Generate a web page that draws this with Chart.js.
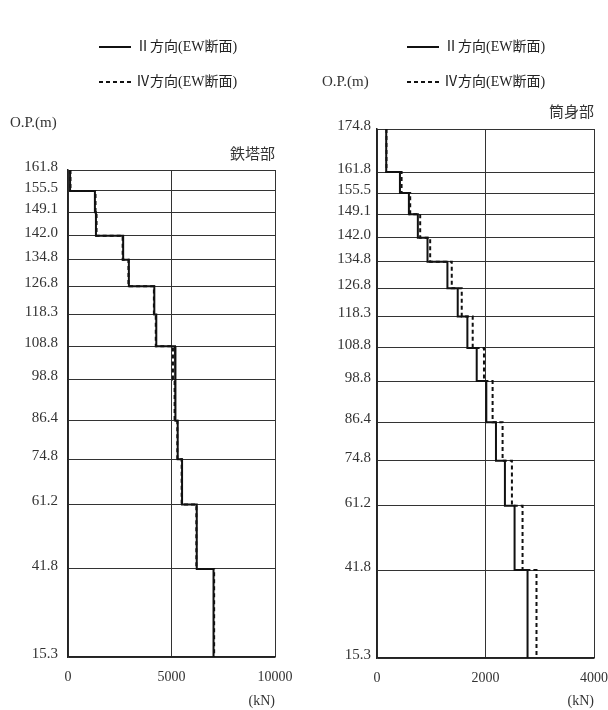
<!DOCTYPE html>
<html>
<head>
<meta charset="utf-8">
<script src="https://cdn.jsdelivr.net/npm/chart.js@4.4.1/dist/chart.umd.min.js"></script>
<style>
  body { margin: 0; background: #fff; }
  .wrap { position: relative; width: 608px; height: 710px; }
  canvas { position: absolute; top: 0; }
</style>
</head>
<body>
<div class="wrap">
  <canvas id="tower-chart" width="304" height="710" style="left:0"></canvas>
  <canvas id="stack-chart" width="304" height="710" style="left:304px"></canvas>
</div>
<script>
/// data (kN per level band, top to bottom)
const towerLevels = [161.8, 155.5, 149.1, 142.0, 134.8, 126.8, 118.3, 108.8, 98.8, 86.4, 74.8, 61.2, 41.8, 15.3];
const towerDir2 = [100, 1300, 1350, 2665, 2940, 4170, 4265, 5170, 5200, 5300, 5510, 6220, 7030];
const towerDir4 = [120, 1330, 1380, 2640, 2920, 4150, 4240, 5070, 5150, 5280, 5490, 6200, 7060];
const towerTicksX = [0, 5000, 10000];

const stackLevels = [174.8, 161.8, 155.5, 149.1, 142.0, 134.8, 126.8, 118.3, 108.8, 98.8, 86.4, 74.8, 61.2, 41.8, 15.3];
const stackDir2 = [170, 423, 588, 753, 931, 1298, 1488, 1666, 1838, 2015, 2193, 2358, 2536, 2775];
const stackDir4 = [175, 453, 612, 796, 980, 1378, 1562, 1764, 1972, 2131, 2315, 2487, 2683, 2940];
const stackTicksX = [0, 2000, 4000];

const labelDir2 = 'Ⅱ方向(EW断面)';
const labelDir4 = 'Ⅳ方向(EW断面)';

const FONT_FAMILY = "'Liberation Serif', 'Noto Sans CJK JP', serif";
Chart.defaults.font.family = FONT_FAMILY;
Chart.defaults.font.size = 14;
Chart.defaults.color = '#333';

// turn level bands into step points
function steps(levels, values) {
    let pts = [];
    for (let i = 0; i < values.length; i++) {
        pts.push({x: values[i], y: levels[i]});
        pts.push({x: values[i], y: levels[i + 1]});
    }
    return pts;
}

// legend, O.P.(m) and panel name
const panelText = {
    id: 'panelText',
    afterDraw(chart, args, opts) {
        const ctx = chart.ctx;
        ctx.save();
        ctx.textBaseline = 'middle';
        chart.data.datasets.forEach(function(ds, i) {
            let y = opts.legendY[i];
            ctx.beginPath();
            ctx.setLineDash(ds.borderDash || []);
            ctx.lineWidth = 2;
            ctx.strokeStyle = ds.borderColor;
            ctx.moveTo(opts.legendX, y);
            ctx.lineTo(opts.legendX + 32, y);
            ctx.stroke();
            ctx.setLineDash([]);
            ctx.fillStyle = '#222';
            ctx.font = '14px ' + FONT_FAMILY;
            ctx.textAlign = 'left';
            ctx.fillText(ds.label, opts.legendX + 37, y);
        });
        ctx.fillStyle = '#333';
        ctx.font = '15px ' + FONT_FAMILY;
        ctx.textAlign = 'left';
        ctx.fillText('O.P.(m)', opts.opX, opts.opY);
        ctx.font = '15px ' + FONT_FAMILY;
        ctx.textAlign = 'right';
        ctx.fillText(opts.title, chart.chartArea.right, opts.titleY);
        ctx.restore();
    }
};

function makeChart(id, levels, dir2, dir4, ticksX, cfg) {
    const data = {
        datasets: [{
            label: labelDir2,
            data: steps(levels, dir2),
            borderColor: '#111',
            borderWidth: 2,
            showLine: true,
            pointRadius: 0,
            order: 2
        }, {
            label: labelDir4,
            data: steps(levels, dir4),
            borderColor: '#111',
            borderWidth: 2,
            borderDash: [4, 3],
            showLine: true,
            pointRadius: 0,
            order: 1
        }]
    };

    const config = {
        type: 'scatter',
        data: data,
        plugins: [panelText],
        options: {
            responsive: false,
            animation: false,
            layout: { padding: { left: 0, right: cfg.padRight, top: cfg.padTop, bottom: 0 } },
            plugins: {
                legend: { display: false },
                tooltip: { enabled: false },
                panelText: cfg.text
            },
            scales: {
                x: {
                    type: 'linear',
                    min: ticksX[0],
                    max: ticksX[ticksX.length - 1],
                    afterBuildTicks: function(scale) {
                        scale.ticks = ticksX.map(v => ({value: v}));
                    },
                    afterFit: function(scale) {
                        scale.height = cfg.xHeight;
                        scale.paddingLeft = 0;
                        scale.paddingRight = 0;
                    },
                    ticks: {
                        padding: 12,
                        maxRotation: 0,
                        autoSkip: false,
                        color: '#333',
                        callback: v => String(v)
                    },
                    grid: { color: '#333', lineWidth: 1, drawTicks: false },
                    border: { color: '#222', width: 1.5 },
                    title: {
                        display: true,
                        text: '(kN)',
                        align: 'end',
                        color: '#333',
                        padding: 0,
                        font: { size: 14 }
                    }
                },
                y: {
                    type: 'linear',
                    min: levels[levels.length - 1],
                    max: levels[0],
                    afterBuildTicks: function(scale) {
                        scale.ticks = levels.map(v => ({value: v}));
                    },
                    afterFit: function(scale) { scale.width = cfg.yWidth; },
                    ticks: {
                        padding: cfg.yPad,
                        labelOffset: -3,
                        autoSkip: false,
                        color: '#333',
                        font: { size: 15 },
                        callback: v => Number(v).toFixed(1)
                    },
                    grid: { color: '#333', lineWidth: 1, drawTicks: false },
                    border: { color: '#222', width: 1.5 }
                }
            }
        }
    };

    return new Chart(document.getElementById(id).getContext('2d'), config);
}

// TOWER (left)
const towerChart = makeChart('tower-chart', towerLevels, towerDir2, towerDir4, towerTicksX, {
    padTop: 170, padRight: 29, xHeight: 53, yWidth: 68, yPad: 10,
    text: { legendX: 99, legendY: [47, 82], opX: 10, opY: 123, title: '鉄塔部', titleY: 155 }
});

// STACK (right)
const stackChart = makeChart('stack-chart', stackLevels, stackDir2, stackDir4, stackTicksX, {
    padTop: 129, padRight: 14, xHeight: 52, yWidth: 73, yPad: 6,
    text: { legendX: 103, legendY: [47, 82], opX: 18, opY: 82, title: '筒身部', titleY: 113 }
});
</script>
</body>
</html>
